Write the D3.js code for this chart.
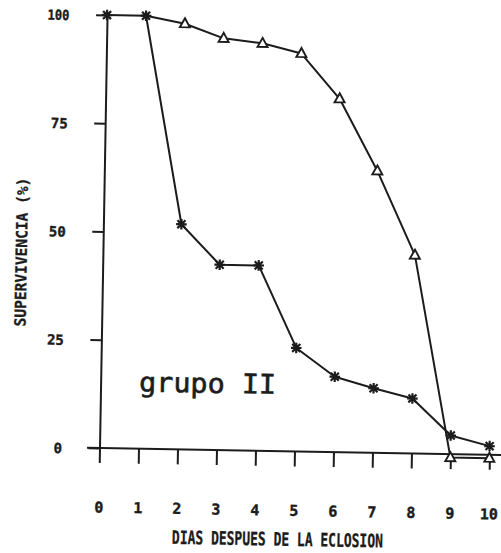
<!DOCTYPE html>
<html>
<head>
<meta charset="utf-8">
<script src="https://cdn.jsdelivr.net/npm/d3@7"></script>
<style>
  html, body { margin: 0; padding: 0; background: #ffffff; }
  svg { display: block; }
</style>
</head>
<body>
<div id="chart"></div>
<script>
// Survival (%) of larvae per day after hatching, group II
const days = [0, 1, 2, 3, 4, 5, 6, 7, 8, 9, 10];
const asteriskValues = [100, 100, 52, 42.8, 42.8, 23.9, 17.4, 14.9, 12.7, 4.3, 2.0];
const triangleDays = [1, 2, 3, 4, 5, 6, 7, 8, 9, 10];
const triangleValues = [100, 98.3, 95.1, 94.1, 91.9, 81.6, 65.1, 45.8, -0.8, -0.8];
const xTickLabels = ["0", "1", "2", "3", "4", "5", "6", "7", "8", "9", "10"];
const yTicks = [0, 25, 50, 75, 100];
const yTickLabels = ["0", "25", "50", "75", "100"];
const xTitle = "DIAS DESPUES DE LA ECLOSION";
const yTitle = "SUPERVIVENCIA (%)";
const groupLabel = "grupo II";

const W = 501, H = 553;
const ink = "#1c1c1c";
const mono = "'DejaVu Sans Mono', 'Liberation Mono', monospace";

const svg = d3.select("#chart").append("svg")
  .attr("width", W).attr("height", H)
  .style("background", "#fff");

const x = d3.scaleLinear().domain([0, 10]).range([99.5, 489.5]);
const y = d3.scaleLinear().domain([0, 100]).range([448, 15]);

// The whole plot sits slightly turned, as on the printed sheet
const g = svg.append("g")
  .attr("transform", `rotate(1, ${x(0)}, ${y(0)})`);

// Bold plotter-like lettering
function letter(sel, size, weight) {
  return sel.attr("fill", ink)
    .attr("stroke", ink).attr("stroke-width", weight)
    .style("font-family", mono).style("font-weight", "bold")
    .style("font-size", size + "px");
}

// X axis
const xAxis = d3.axisBottom(x)
  .tickValues(days)
  .tickSize(15)
  .tickSizeOuter(0)
  .tickFormat((d, i) => xTickLabels[i]);
const gx = g.append("g").attr("transform", `translate(0, ${y(0)})`).call(xAxis);
gx.select(".domain").remove();
gx.append("line")
  .attr("x1", x(-0.32)).attr("x2", x(10.5))
  .attr("y1", 0).attr("y2", 0)
  .attr("stroke", ink).attr("stroke-width", 2);
gx.selectAll(".tick line").attr("stroke", ink).attr("stroke-width", 2);
gx.selectAll(".tick text")
  .attr("y", 64.5).attr("dy", null)
  .call(letter, 15, 0.4);

// Y axis
const yAxis = d3.axisLeft(y)
  .tickValues(yTicks)
  .tickSize(11)
  .tickSizeOuter(0)
  .tickPadding(26.5)
  .tickFormat((d, i) => yTickLabels[i]);
const gy = g.append("g").attr("transform", `translate(${x(0)}, 0)`).call(yAxis);
gy.select(".domain").attr("stroke", ink).attr("stroke-width", 2);
gy.selectAll(".tick line").attr("stroke", ink).attr("stroke-width", 2);
gy.selectAll(".tick text")
  .attr("dy", "0.37em")
  .call(letter, 14, 0.4);
gy.selectAll(".tick text").filter(d => d === 100)
  .attr("textLength", 22).attr("lengthAdjust", "spacingAndGlyphs");

// Axis titles
g.append("text")
  .attr("x", 279).attr("y", 542.5)
  .attr("text-anchor", "middle")
  .attr("textLength", 211).attr("lengthAdjust", "spacingAndGlyphs")
  .call(letter, 18.5, 0.3)
  .text(xTitle);

g.append("text")
  .attr("transform", "translate(23.5, 253.4) rotate(-90)")
  .attr("text-anchor", "middle")
  .attr("textLength", 149).attr("lengthAdjust", "spacingAndGlyphs")
  .call(letter, 15.5, 0.3)
  .text(yTitle);

// Group label inside the plot
g.append("text")
  .attr("x", x(0.985)).attr("y", y(13.2))
  .attr("textLength", 137).attr("lengthAdjust", "spacingAndGlyphs")
  .attr("fill", ink).attr("stroke", ink).attr("stroke-width", 0.6)
  .style("font-family", mono).style("font-size", "27px")
  .text(groupLabel);

// Lines
const line = d3.line().x(d => x(d[0])).y(d => y(d[1]));
const asteriskPts = days.map((d, i) => [d, asteriskValues[i]]);
const trianglePts = triangleDays.map((d, i) => [d, triangleValues[i]]);

g.append("path").datum(trianglePts)
  .attr("d", line).attr("fill", "none")
  .attr("stroke", ink).attr("stroke-width", 2).attr("stroke-linejoin", "round");
g.append("path").datum(asteriskPts)
  .attr("d", line).attr("fill", "none")
  .attr("stroke", ink).attr("stroke-width", 2).attr("stroke-linejoin", "round");

// Triangle markers
const tri = "M0,-5.5L5,3.5L-5,3.5Z";
g.selectAll(".tri").data(trianglePts.slice(1)).join("path")
  .attr("class", "tri")
  .attr("transform", d => `translate(${x(d[0])}, ${y(d[1])})`)
  .attr("d", tri)
  .attr("fill", "#fff").attr("stroke", ink).attr("stroke-width", 1.9)
  .attr("stroke-linejoin", "miter");

// Asterisk markers
const r = 5.3, rd = 4;
const star = `M0,${-r}L0,${r}M${-r},0L${r},0M${-rd},${-rd}L${rd},${rd}M${-rd},${rd}L${rd},${-rd}`;
g.selectAll(".ast").data(asteriskPts).join("path")
  .attr("class", "ast")
  .attr("transform", d => `translate(${x(d[0])}, ${y(d[1])})`)
  .attr("d", star)
  .attr("fill", "none").attr("stroke", ink).attr("stroke-width", 2.2);
g.selectAll(".astc").data(asteriskPts).join("circle")
  .attr("class", "astc")
  .attr("cx", d => x(d[0])).attr("cy", d => y(d[1]))
  .attr("r", 2.2).attr("fill", ink);
</script>
</body>
</html>
